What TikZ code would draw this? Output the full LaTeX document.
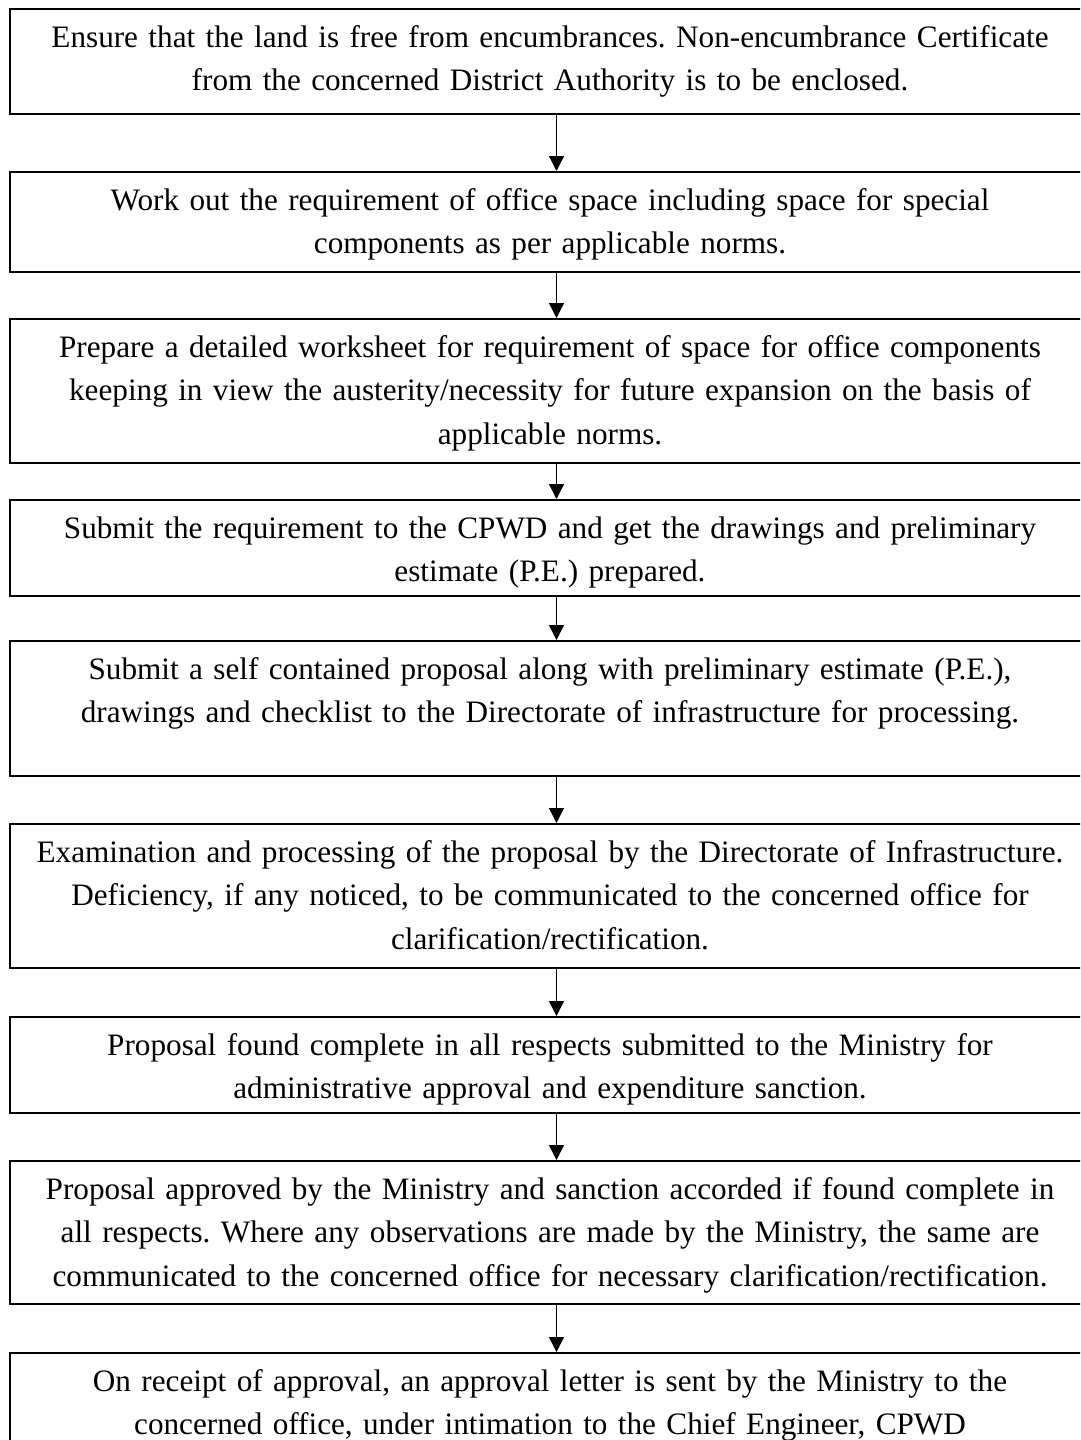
\documentclass[tikz,border=0pt]{standalone}
\usepackage{fontspec}
\setmainfont{Liberation Serif}
\frenchspacing
\usepackage{tikz}
\usetikzlibrary{
	arrows.meta,
	positioning
}
\tikzset{
	flowbox/.style={draw,line width=1.6pt,anchor=north,align=center,text width=1080pt,inner xsep=0pt,inner ysep=10pt,text height=28.5pt,font=\fontsize{31.2}{43.5}\selectfont},
	flowarrow/.style={->,line width=1.3pt}
}
\newcommand{\flowBox}[4][]{\node (#3) at #2 [flowbox,#1]{#4};}
\newcommand{\flowArrow}[2]{\draw[flowarrow] ([xshift=6.5pt]#1.south) -- ([xshift=6.5pt]#2.north);}

\begin{document}
\begin{tikzpicture}[x=1pt,y=-1pt,>={Triangle[width=15pt,length=15pt]}]
								\useasboundingbox (0,0) rectangle (1080,1440);
								\clip (0,0) rectangle (1080,1440);
								
								\flowBox[text depth=56.5pt]{(550,8)}{land}{Ensure that the land is free from encumbrances. Non-encumbrance Certificate\\ from the concerned District Authority is to be enclosed.}
								\flowBox[text depth=51.5pt]{(550,171)}{space}{Work out the requirement of office space including space for special\\ components as per applicable norms.}
								\flowBox[text depth=95.5pt]{(550,318)}{worksheet}{Prepare a detailed worksheet for requirement of space for office components\\ keeping in view the austerity/necessity for future expansion on the basis of\\ applicable norms.}
								\flowBox[text depth=47.5pt]{(550,499)}{cpwd}{Submit the requirement to the CPWD and get the drawings and preliminary\\ estimate (P.E.) prepared.}
								\flowBox[text depth=86.5pt]{(550,640)}{proposal}{Submit a self contained proposal along with preliminary estimate (P.E.),\\ drawings and checklist to the Directorate of infrastructure for processing.}
								\flowBox[text depth=95.5pt]{(550,823)}{exam}{Examination and processing of the proposal by the Directorate of Infrastructure.\\ Deficiency, if any noticed, to be communicated to the concerned office for\\ clarification/rectification.}
								\flowBox[text depth=47.5pt]{(550,1016)}{ministry}{Proposal found complete in all respects submitted to the Ministry for\\ administrative approval and expenditure sanction.}
								\flowBox[text depth=94.5pt]{(550,1160)}{sanction}{Proposal approved by the Ministry and sanction accorded if found complete in\\ all respects. Where any observations are made by the Ministry, the same are\\ communicated to the concerned office for necessary clarification/rectification.}
								\flowBox[text depth=51.5pt]{(550,1352)}{letter}{On receipt of approval, an approval letter is sent by the Ministry to the\\ concerned office, under intimation to the Chief Engineer, CPWD}
								
								\flowArrow{land}{space}
								\flowArrow{space}{worksheet}
								\flowArrow{worksheet}{cpwd}
								\flowArrow{cpwd}{proposal}
								\flowArrow{proposal}{exam}
								\flowArrow{exam}{ministry}
								\flowArrow{ministry}{sanction}
								\flowArrow{sanction}{letter}
							\end{tikzpicture}
\end{document}
